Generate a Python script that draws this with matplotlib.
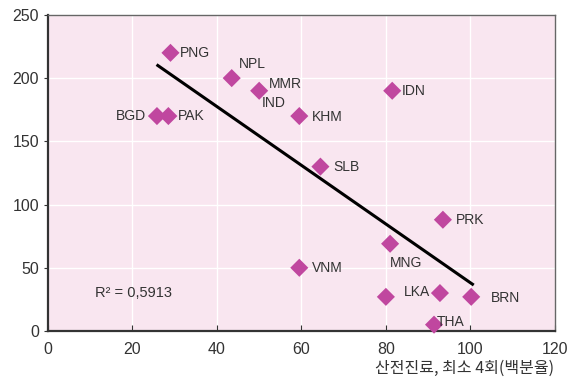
import numpy as np
import matplotlib.pyplot as plt

plt.rcParams['font.family'] = ['Liberation Sans', 'Noto Sans CJK KR', 'DejaVu Sans']

# data
names = ['PNG', 'NPL', 'MMR', 'BGD', 'PAK', 'KHM', 'IDN', 'SLB', 'PRK',
         'MNG', 'VNM', '', 'LKA', 'BRN', 'THA']
xs = [29, 43.5, 50, 25.8, 28.5, 59.5, 81.5, 64.5, 93.5, 81, 59.5, 80, 92.8, 100.2, 91.4]
ys = [220, 200, 190, 170, 170, 170, 190, 130, 88, 69, 50, 27, 30, 27, 5]
trend_x = [26, 100.5]
trend_y = [210, 37]

# label offsets (points) and alignment
offs = {'PNG': (7, 0, 'left'), 'NPL': (5, 10, 'left'), 'MMR': (7, 5, 'left'),
        'BGD': (-8, 0, 'right'), 'PAK': (7, 0, 'left'), 'KHM': (9, -1, 'left'),
        'IDN': (7, 0, 'left'), 'SLB': (9, 0, 'left'), 'PRK': (9, 0, 'left'),
        'MNG': (0, -14, 'left'), 'VNM': (9, 0, 'left'), 'LKA': (-7, 1, 'right'),
        'BRN': (14, -1, 'left'), 'THA': (2, 2, 'left')}

fig = plt.figure(figsize=(5.74, 3.85), dpi=100)
ax = fig.add_axes([0.0836, 0.1403, 0.883, 0.821])
ax.set_facecolor('#f9e6f0')
ax.set_xlim(0, 120)
ax.set_ylim(0, 250)
ax.set_xticks(np.arange(0, 121, 20))
ax.set_yticks(np.arange(0, 251, 50))
ax.grid(color='white', linewidth=1.0)
ax.set_axisbelow(True)

ax.plot(trend_x, trend_y, color='black', lw=2.2, zorder=2)
ax.scatter(xs, ys, marker='D', s=85, color='#c0479f', edgecolors='none', zorder=3, clip_on=False)

for n, x, y in zip(names, xs, ys):
    if not n:
        continue
    dx, dy, ha = offs[n]
    ax.annotate(n, (x, y), xytext=(dx, dy), textcoords='offset points',
                ha=ha, va='center', fontsize=10, color='#333333', zorder=4)
    if n == 'MMR':
        ax.annotate('IND', (x, y), xytext=(2, -9), textcoords='offset points',
                    ha='left', va='center', fontsize=10, color='#333333')

ax.text(0.093, 0.12, 'R² = 0,5913', transform=ax.transAxes, fontsize=10.5,
        va='center', color='#333333')

for s in ['left', 'bottom']:
    ax.spines[s].set_linewidth(1.6)
    ax.spines[s].set_color('#333333')
for s in ['top', 'right']:
    ax.spines[s].set_linewidth(1.0)
    ax.spines[s].set_color('#666666')
ax.tick_params(axis='x', direction='in', length=4, labelsize=11.5, colors='#333333', pad=8)
ax.tick_params(axis='y', direction='out', length=3, labelsize=11.5, colors='#333333')

fig.text(0.965, 0.02, '산전진료, 최소 4회(백분율)', ha='right', va='bottom', fontsize=11.5,
         family=['Noto Sans CJK KR', 'DejaVu Sans'], color='#333333')

fig.savefig('out.png', dpi=100)
